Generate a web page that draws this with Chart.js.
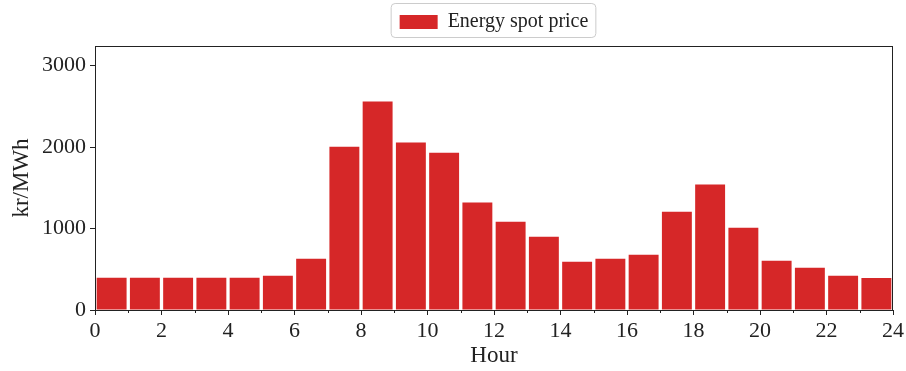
<!DOCTYPE html>
<html>
<head>
<meta charset="utf-8">
<script src="https://cdn.jsdelivr.net/npm/chart.js@4"></script>
<style>
  body { margin: 0; background: #fff; }
  #wrap { width: 906px; height: 371px; }
</style>
</head>
<body>
<div id="wrap"><canvas id="grafica"></canvas></div>
<script>
const hours = [0, 1, 2, 3, 4, 5, 6, 7, 8, 9, 10, 11, 12, 13, 14, 15, 16, 17, 18, 19, 20, 21, 22, 23];
const prices = [395, 395, 395, 395, 395, 420, 628, 2005, 2560, 2055, 1930, 1318,
                1084, 899, 591, 628, 677, 1207, 1539, 1010, 603, 517, 419, 394];
const xTicks = [0, 2, 4, 6, 8, 10, 12, 14, 16, 18, 20, 22, 24];
const yTicks = [0, 1000, 2000, 3000];
const seriesLabel = 'Energy spot price';

const FONT = "'Liberation Serif', 'Times New Roman', serif";
const TEXT = '#222222';

// marcos del eje: caja completa, ticks menores y borde de la leyenda
const ejesPlugin = {
  id: 'ejes',
  beforeLayout(chart) {
    const lg = chart.legend;
    if (lg && !lg._patched) {
      const fit = lg.fit;
      lg.fit = function () { fit.call(this); this.height = 46; };
      lg._patched = true;
    }
  },
  afterDraw(chart) {
    const { ctx, chartArea: a, scales } = chart;
    ctx.save();
    ctx.strokeStyle = TEXT;
    ctx.lineWidth = 1;
    ctx.strokeRect(a.left + 0.5, a.top + 0.5, a.right - a.left - 1, a.bottom - a.top);
    // ticks menores en horas impares
    hours.filter(h => h % 2 === 1).forEach(h => {
      const x = Math.round(scales.x.getPixelForValue(h)) + 0.5;
      ctx.beginPath();
      ctx.moveTo(x, a.bottom);
      ctx.lineTo(x, a.bottom + 3);
      ctx.stroke();
    });
    // caja de la leyenda
    const hb = chart.legend.legendHitBoxes[0];
    if (hb) {
      ctx.strokeStyle = '#cccccc';
      ctx.beginPath();
      ctx.roundRect(hb.left - 8.5, 3.5, hb.width + 16, 34, 4);
      ctx.stroke();
    }
    ctx.restore();
  }
};

new Chart(document.getElementById('grafica'), {
  type: 'bar',
  data: {
    datasets: [{
      label: seriesLabel,
      data: hours.map((h, i) => ({ x: h + 0.5, y: prices[i] })),
      backgroundColor: '#d62728',
      borderWidth: 0,
      barPercentage: 0.9,
      categoryPercentage: 1
    }]
  },
  options: {
    responsive: true,
    maintainAspectRatio: false,
    animation: false,
    layout: { padding: { left: 0, right: 0, top: 0, bottom: 0 } },
    plugins: {
      tooltip: { enabled: false },
      legend: {
        position: 'top',
        fullSize: false,
        labels: {
          color: TEXT,
          font: { family: FONT, size: 20 },
          boxWidth: 38,
          boxHeight: 14,
          padding: 12
        }
      }
    },
    scales: {
      x: {
        type: 'linear',
        min: 0,
        max: 24,
        offset: false,
        afterBuildTicks: s => { s.ticks = xTicks.map(v => ({ value: v })); },
        afterFit: s => { s.height = 61; s.paddingRight = 13; s.paddingLeft = 0; },
        grid: { drawOnChartArea: false, offset: false, tickLength: 5, color: TEXT },
        border: { color: TEXT },
        ticks: { color: TEXT, font: { family: FONT, size: 22 }, padding: 3, maxRotation: 0 },
        title: { display: true, text: 'Hour', color: TEXT, font: { family: FONT, size: 23 }, padding: { top: 0, bottom: 1 } }
      },
      y: {
        min: 0,
        max: 3240,
        afterBuildTicks: s => { s.ticks = yTicks.map(v => ({ value: v })); },
        afterFit: s => { s.width = 95; },
        grid: { drawOnChartArea: false, tickLength: 5, color: TEXT },
        border: { color: TEXT },
        ticks: { color: TEXT, font: { family: FONT, size: 22 }, padding: 4, callback: v => String(v) },
        title: { display: true, text: 'kr/MWh', color: TEXT, font: { family: FONT, size: 23 }, padding: { top: 8, bottom: 0 } }
      }
    }
  },
  plugins: [ejesPlugin]
});
</script>
</body>
</html>
